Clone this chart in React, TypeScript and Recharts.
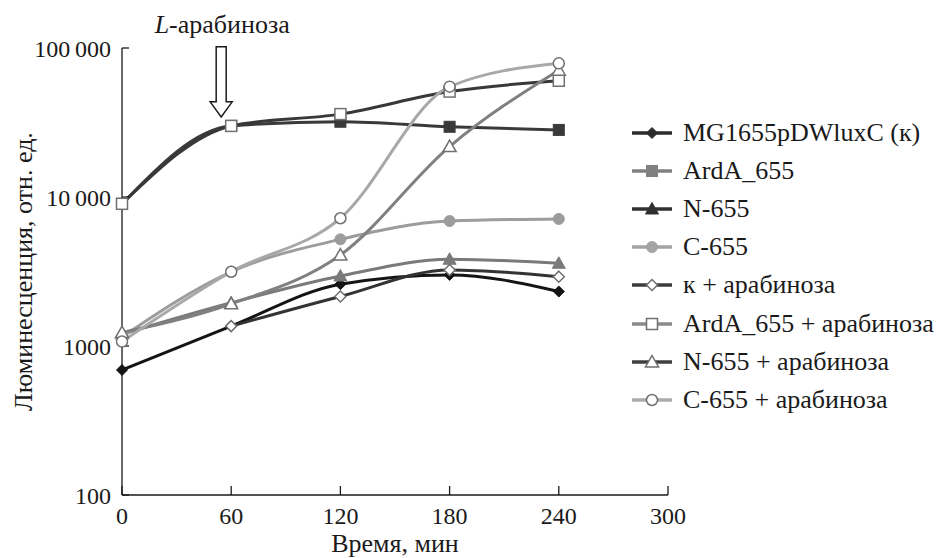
import { LineChart, Line, XAxis, YAxis, Legend, ReferenceDot } from 'recharts';

const FONT = "'Liberation Serif', Tinos, 'Noto Serif', 'DejaVu Serif', 'Times New Roman', Times, serif";

// time points, min
const TIME = [0, 60, 120, 180, 240];
const X_TICKS = [0, 60, 120, 180, 240, 300];
const Y_TICKS = [100, 1000, 10000, 100000];

// luminescence, rel. units
const MG1655 = [690, 1360, 2600, 3000, 2320];
const ARDA = [9000, 30000, 32000, 29600, 28200];
const N655 = [1200, 1950, 2950, 3820, 3590];
const C655 = [1150, 3150, 5200, 6900, 7120];
const K_ARA = [null, 1360, 2150, 3240, 2920];
const ARDA_ARA = [9000, 30000, 36000, 51000, 60300];
const N655_ARA = [1230, 1920, 4080, 21800, 71000];
const C655_ARA = [1070, 3150, 7200, 55000, 78900];

// arrow "L-арабиноза" points here
const ARROW_X = 54.5;
const ARROW_Y = 34500;

type Shape = 'diamond' | 'square' | 'triangle' | 'circle';

interface SeriesDef {
  key: string;
  name: string;
  values: (number | null)[];
  color: string;
  legendColor: string;
  shape: Shape;
  open: boolean;
}

const SERIES: SeriesDef[] = [
  { key: 'mg', name: 'MG1655pDWluxC (к)', values: MG1655, color: '#141414', legendColor: '#2b2b2b', shape: 'diamond', open: false },
  { key: 'arda', name: 'ArdA_655', values: ARDA, color: '#3a3a3a', legendColor: '#808080', shape: 'square', open: false },
  { key: 'n', name: 'N-655', values: N655, color: '#7a7a7a', legendColor: '#303030', shape: 'triangle', open: false },
  { key: 'c', name: 'C-655', values: C655, color: '#9c9c9c', legendColor: '#a4a4a4', shape: 'circle', open: false },
  { key: 'kAra', name: 'к + арабиноза', values: K_ARA, color: '#333333', legendColor: '#3c3c3c', shape: 'diamond', open: true },
  { key: 'ardaAra', name: 'ArdA_655 + арабиноза', values: ARDA_ARA, color: '#383838', legendColor: '#8a8a8a', shape: 'square', open: true },
  { key: 'nAra', name: 'N-655 + арабиноза', values: N655_ARA, color: '#808080', legendColor: '#404040', shape: 'triangle', open: true },
  { key: 'cAra', name: 'C-655 + арабиноза', values: C655_ARA, color: '#a8a8a8', legendColor: '#aaaaaa', shape: 'circle', open: true },
];

const chartData = TIME.map((t, i) => {
  const row: { [k: string]: number | null } = { t };
  SERIES.forEach(s => {
    row[s.key] = s.values[i];
  });
  return row;
});

function Marker({ cx, cy, shape, open, color }: { cx: number; cy: number; shape: Shape; open: boolean; color: string }) {
  const fill = open ? '#ffffff' : color;
  const stroke = open ? '#707070' : color;
  const sw = open ? 1.5 : 1;
  if (shape === 'diamond') {
    const r = 5.5;
    return <polygon points={`${cx},${cy - r} ${cx + r},${cy} ${cx},${cy + r} ${cx - r},${cy}`} fill={fill} stroke={stroke} strokeWidth={sw} />;
  }
  if (shape === 'square') {
    return <rect x={cx - 5.5} y={cy - 5.5} width={11} height={11} fill={fill} stroke={stroke} strokeWidth={sw} />;
  }
  if (shape === 'triangle') {
    return <polygon points={`${cx},${cy - 6.5} ${cx + 6.5},${cy + 5} ${cx - 6.5},${cy + 5}`} fill={fill} stroke={stroke} strokeWidth={sw} />;
  }
  return <circle cx={cx} cy={cy} r={5.5} fill={fill} stroke={stroke} strokeWidth={sw} />;
}

const formatY = (v: number) => {
  if (v >= 10000) {
    const s = String(v);
    return s.slice(0, s.length - 3) + '\u2009' + s.slice(s.length - 3);
  }
  return String(v);
};

function ArrowMark(props: any) {
  const { cx, cy } = props;
  if (cx == null || cy == null) return null;
  const d = `M${cx - 5} ${cy - 70} L${cx + 5} ${cy - 70} L${cx + 5} ${cy - 15} L${cx + 11} ${cy - 15} L${cx} ${cy} L${cx - 11} ${cy - 15} L${cx - 5} ${cy - 15} Z`;
  return (
    <g>
      <path d={d} fill="#ffffff" stroke="#1a1a1a" strokeWidth={1.5} />
      <text x={cx + 1} y={cy - 84} textAnchor="middle" style={{ fontFamily: FONT, fontSize: 26 }} fill="#1a1a1a">
        <tspan style={{ fontStyle: 'italic' }}>L</tspan>-арабиноза
      </text>
    </g>
  );
}

function LegendBox() {
  return (
    <div style={{ fontFamily: FONT, fontSize: 26, color: '#1a1a1a' }}>
      {SERIES.map(s => (
        <div key={s.key} style={{ display: 'flex', alignItems: 'center', height: 38.1 }}>
          <svg width={40} height={16} style={{ flex: 'none' }}>
            <line x1={0} y1={8} x2={40} y2={8} stroke={s.legendColor} strokeWidth={3.5} />
            <Marker cx={20} cy={8} shape={s.shape} open={s.open} color={s.legendColor} />
          </svg>
          <span style={{ marginLeft: 11, whiteSpace: 'nowrap' }}>{s.name}</span>
        </div>
      ))}
    </div>
  );
}

export default function App() {
  const tickStyle = { fontFamily: FONT, fontSize: 24, fill: '#1a1a1a' };
  return (
    <div style={{ position: 'absolute', left: 0, top: 0, width: 951, height: 558, background: '#ffffff', fontFamily: FONT }}>
      <LineChart width={951} height={558} data={chartData} margin={{ top: 48, right: 283, bottom: 0, left: 0 }} style={{ fontFamily: FONT }}>
        <XAxis
          dataKey="t"
          type="number"
          domain={[0, 300]}
          ticks={X_TICKS}
          height={63}
          tickSize={-9}
          tickMargin={21}
          stroke="#1a1a1a"
          strokeWidth={1.3}
          tick={tickStyle}
          label={{ value: 'Время, мин', position: 'insideBottom', offset: 6, style: { fontFamily: FONT, fontSize: 26, fill: '#1a1a1a' } }}
        />
        <YAxis
          scale="log"
          domain={[100, 100000]}
          allowDataOverflow
          ticks={Y_TICKS}
          tickFormatter={formatY}
          width={122}
          tickSize={-7}
          tickMargin={18}
          stroke="#1a1a1a"
          strokeWidth={1.3}
          tick={tickStyle}
          label={{
            value: 'Люминесценция, отн. ед.',
            angle: -90,
            position: 'insideLeft',
            offset: 23,
            style: { textAnchor: 'middle', fontFamily: FONT, fontSize: 26, fill: '#1a1a1a' },
          }}
        />
        <Legend
          content={() => <LegendBox />}
          layout="vertical"
          align="center"
          verticalAlign="middle"
          wrapperStyle={{ left: 632, top: 114, width: 319, height: 310 }}
        />
        {SERIES.map(s => (
          <Line
            key={s.key}
            type="monotone"
            dataKey={s.key}
            name={s.name}
            stroke={s.color}
            strokeWidth={3}
            isAnimationActive={false}
            dot={(p: any) =>
              p.value == null || p.cy == null ? (
                <g key={`${s.key}-${p.index}`} />
              ) : (
                <Marker key={`${s.key}-${p.index}`} cx={p.cx} cy={p.cy} shape={s.shape} open={s.open} color={s.color} />
              )
            }
            activeDot={false}
          />
        ))}
        <ReferenceDot x={ARROW_X} y={ARROW_Y} r={0} ifOverflow="visible" shape={(p: any) => <ArrowMark {...p} />} />
      </LineChart>
    </div>
  );
}
